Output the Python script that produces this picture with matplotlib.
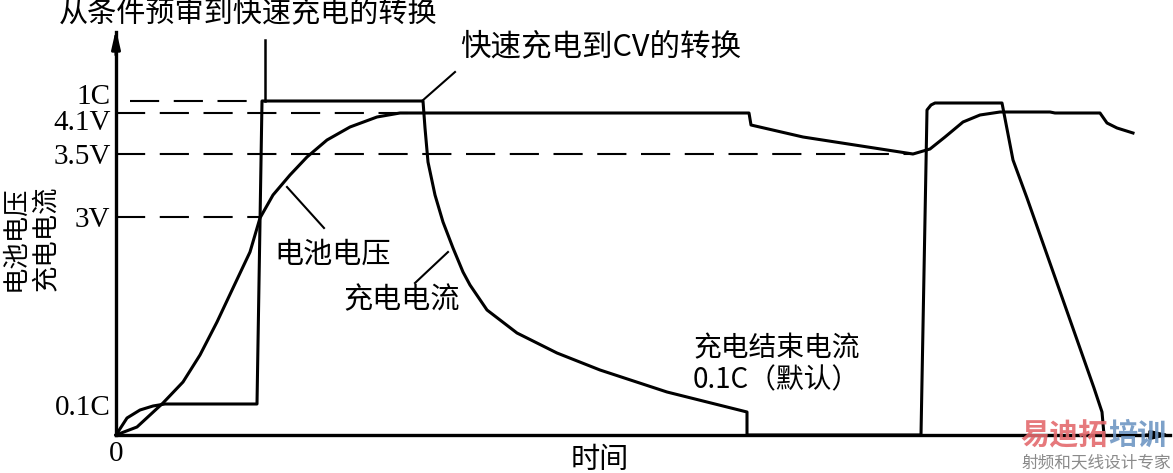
import matplotlib as mpl
import matplotlib.pyplot as plt
import matplotlib.transforms as mtransforms

cjk = ['Noto Sans CJK SC', 'DejaVu Sans']
serif = ['Liberation Serif', 'DejaVu Serif']

# levels on the vertical axis (arbitrary units, 0 = origin)
level_names = ['0.1C', '3V', '3.5V', '4.1V', '1C']
level_vals = [30, 218, 281, 322, 334]
label_shift = [0, 0, 0, -7, 7]   # px nudges so 4.1V / 1C labels don't collide

# charge current trace (time, level)
cur_t = [0, 11, 24, 37, 49, 141, 146, 307, 309, 312, 319, 327, 337, 347, 354,
         371, 401, 441, 484, 551, 631, 631, 805, 811, 815, 819, 886, 897, 911,
         947, 978, 986, 988]
cur_v = [0, 17, 25, 29, 31, 31, 334, 334, 307, 273, 240, 213, 187, 163, 150,
         125, 102, 82, 65, 43, 23, 0, 0, 325, 330, 332, 332, 275, 237,
         135, 47, 23, 0]

# battery voltage trace
volt_t = [0, 21, 47, 67, 84, 101, 117, 134, 144, 157, 174, 191, 211, 234, 261,
          284, 307, 633, 635, 687, 797, 814, 829, 847, 864, 884, 934, 939, 984,
          991, 1001, 1017]
volt_v = [0, 8, 32, 53, 80, 113, 147, 183, 217, 240, 260, 278, 295, 308, 318,
          322, 322, 322, 310, 298, 281, 286, 298, 313, 320, 323, 323, 322, 322,
          312, 307, 302]

# dashed reference lines: (level, start, end)
ref_lines = [(334, 14, 147), (322, 0, 310), (281, 0, 797), (218, 0, 144)]

fig = plt.figure(figsize=(11.73, 4.73), dpi=100)
fig.patch.set_facecolor('white')
ax = fig.add_axes([116 / 1173, 38 / 473, 1054 / 1173, 403 / 473])
ax.set_xlim(0, 1054)
ax.set_ylim(0, 403)

lw = 2.2
for lv, a, b in ref_lines:
    ax.plot([a, b], [lv, lv], color='black', lw=1.5, linestyle=(0, (14, 7)))

ax.plot(cur_t, cur_v, color='black', lw=lw, solid_joinstyle='round', clip_on=False)
ax.plot(volt_t, volt_v, color='black', lw=lw, solid_joinstyle='round', clip_on=False)

# pointer lines
ax.plot([149, 149], [334, 395], color='black', lw=1.8, clip_on=False)
ax.plot([306, 339], [334, 363], color='black', lw=1.5)
ax.plot([171, 208], [248, 207], color='black', lw=1.5)
ax.plot([332, 299], [183, 152], color='black', lw=1.5)

# axes with arrows
for s in ['top', 'right']:
    ax.spines[s].set_visible(False)
ax.spines['left'].set_linewidth(2.4)
ax.spines['bottom'].set_linewidth(2.4)
ax.annotate('', xy=(0, 406), xytext=(0, 380), annotation_clip=False,
            arrowprops=dict(arrowstyle='-|>,head_length=1.1,head_width=0.25',
                            color='black', lw=2.2, shrinkA=0, shrinkB=0))
ax.annotate('', xy=(1056, 0), xytext=(1030, 0), annotation_clip=False,
            arrowprops=dict(arrowstyle='-|>,head_length=1.1,head_width=0.25',
                            color='black', lw=2.2, shrinkA=0, shrinkB=0))

ax.set_yticks(level_vals)
ax.set_yticklabels(level_names, family=serif, fontsize=21)
ax.set_xticks([0])
ax.set_xticklabels(['0'], family=serif, fontsize=21)
ax.tick_params(axis='y', length=0, pad=4)
ax.tick_params(axis='x', length=0, pad=4)
for lab, dy in zip(ax.get_yticklabels(), label_shift):
    lab.set_transform(lab.get_transform() +
                      mtransforms.ScaledTranslation(0, dy / 100, fig.dpi_scale_trans))

# texts
ax.text(132, 421, '从条件预审到快速充电的转换', family=cjk, fontsize=21,
        ha='center', va='center', clip_on=False)
ax.text(485, 388, '快速充电到CV的转换', family=cjk, fontsize=22,
        ha='center', va='center')
ax.text(217, 180, '电池电压', family=cjk, fontsize=21, ha='center', va='center')
ax.text(286, 135, '充电电流', family=cjk, fontsize=21, ha='center', va='center')
ax.text(744, 87, '充电结束电流', family=cjk, fontsize=20, ha='right', va='center')
ax.text(744, 55, '0.1C（默认）', family=cjk, fontsize=20, ha='right', va='center')

fig.text(15 / 1173, 1 - 238 / 473, '电池电压', family=cjk, fontsize=19,
         rotation=90, ha='center', va='center')
fig.text(45 / 1173, 1 - 238 / 473, '充电电流', family=cjk, fontsize=19,
         rotation=90, ha='center', va='center')
fig.text(600 / 1173, 1 - 460 / 473, '时间', family=cjk, fontsize=21,
         ha='center', va='center')

# watermark
fig.text(1020 / 1173, 1 - 435 / 473, '易迪拓', family=cjk, fontsize=21,
         fontweight='bold', color='#e46a6e', ha='left', va='center', alpha=0.9)
fig.text(1108 / 1173, 1 - 435 / 473, '培训', family=cjk, fontsize=21,
         fontweight='bold', color='#6f97c4', ha='left', va='center', alpha=0.9)
fig.text(1096 / 1173, 1 - 463 / 473, '射频和天线设计专家', family=cjk, fontsize=12,
         color='#8a8a8a', ha='center', va='center')

fig.savefig('out.png', dpi=100)
